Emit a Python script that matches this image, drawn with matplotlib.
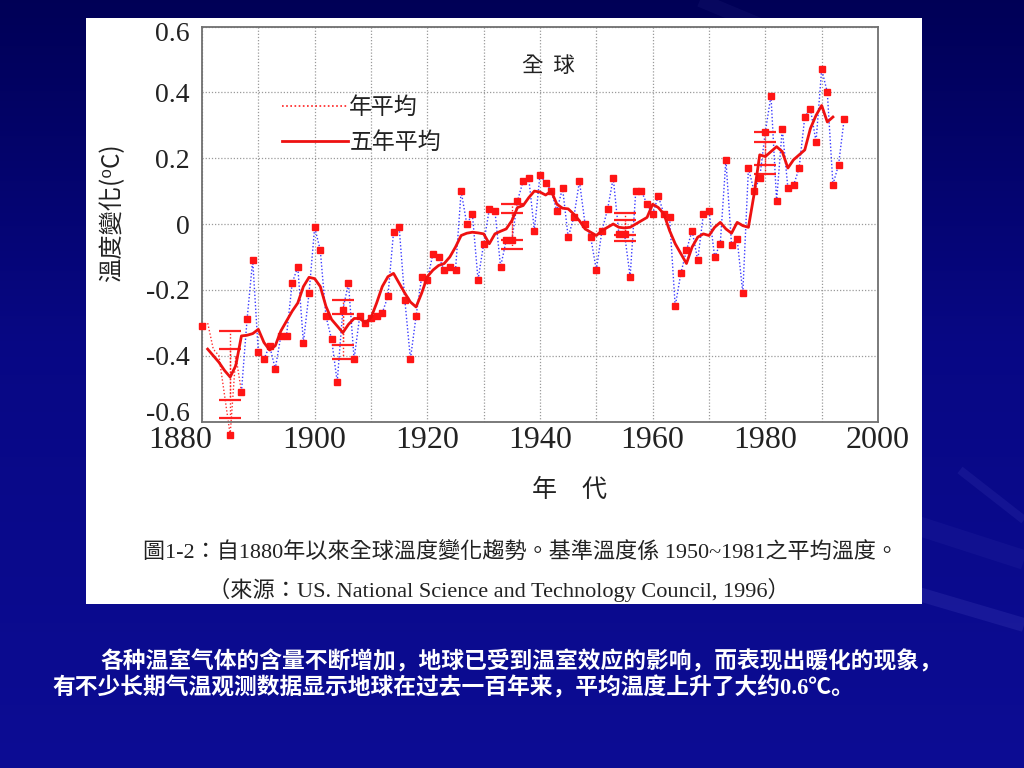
import matplotlib
matplotlib.use("Agg")
import matplotlib.pyplot as plt
import numpy as np
from matplotlib.lines import Line2D
from matplotlib.patches import Rectangle
from matplotlib.transforms import ScaledTranslation

# ---------------- data ----------------
years = list(range(1880, 1995))
annual = [
    -0.31, -0.30, -0.38, -0.40, -0.52, -0.64, -0.40, -0.51, -0.29, -0.11,   # 1880-1889
    -0.39, -0.41, -0.37, -0.44, -0.34, -0.34, -0.18, -0.13, -0.36, -0.21,   # 1890-1899
    -0.01, -0.08, -0.28, -0.35, -0.48, -0.26, -0.18, -0.41, -0.28, -0.30,   # 1900-1909
    -0.285, -0.28, -0.27, -0.22, -0.025, -0.01, -0.23, -0.41, -0.28, -0.16, # 1910-1919
    -0.17, -0.09, -0.10, -0.14, -0.13, -0.14, 0.10, 0.00, 0.03, -0.17,     # 1920-1929
    -0.06, 0.045, 0.04, -0.13, -0.05, -0.05, 0.07, 0.13, 0.14, -0.02,      # 1930-1939
    0.15, 0.125, 0.10, 0.04, 0.11, -0.04, 0.02, 0.13, 0.00, -0.04,         # 1940-1949
    -0.14, -0.02, 0.045, 0.14, -0.03, -0.03, -0.16, 0.10, 0.10, 0.06,      # 1950-1959
    0.03, 0.085, 0.03, 0.02, -0.25, -0.15, -0.08, -0.02, -0.11, 0.03,      # 1960-1969
    0.04, -0.10, -0.06, 0.195, -0.063, -0.046, -0.21, 0.17, 0.10, 0.14,    # 1970-1979
    0.28, 0.39, 0.07, 0.29, 0.11, 0.117, 0.17, 0.325, 0.35, 0.25,          # 1980-1989
    0.47, 0.40, 0.12, 0.18, 0.32,                                          # 1990-1994
]
hidden_marker_years = [1881, 1882, 1883, 1884, 1886]
early_end_year = 1887

years_5yr = list(range(1881, 1993))
five_year = [
    -0.38, -0.40, -0.42, -0.445, -0.465, -0.43, -0.34, -0.338, -0.333,      # 1881-1889
    -0.32, -0.36, -0.383, -0.37, -0.325, -0.295, -0.265, -0.24, -0.19, -0.162,  # 1890-1899
    -0.166, -0.19, -0.25, -0.29, -0.31, -0.33, -0.305, -0.287, -0.287, -0.30,   # 1900-1909
    -0.285, -0.24, -0.19, -0.16, -0.15, -0.18, -0.21, -0.237, -0.252, -0.21,    # 1910-1919
    -0.16, -0.14, -0.126, -0.12, -0.10, -0.07, -0.035, -0.028, -0.025, -0.027,  # 1920-1929
    -0.03, -0.06, -0.03, -0.022, -0.015, 0.01, 0.05, 0.056, 0.08, 0.10,         # 1930-1939
    0.097, 0.088, 0.10, 0.06, 0.048, 0.046, 0.03, 0.01, -0.015, -0.025,         # 1940-1949
    -0.035, -0.02, -0.01, 0.0, -0.01, -0.012, -0.01, 0.0, 0.01, 0.02,           # 1950-1959
    0.06, 0.05, 0.03, -0.02, -0.06, -0.09, -0.12, -0.07, -0.04, -0.03,          # 1960-1969
    -0.035, -0.01, 0.005, -0.015, -0.028, 0.005, -0.005, -0.01, 0.09, 0.21,     # 1970-1979
    0.205, 0.22, 0.235, 0.22, 0.17, 0.195, 0.21, 0.225, 0.29, 0.33,             # 1980-1989
    0.36, 0.31, 0.325,                                                          # 1990-1992
]

err_years = [1885, 1905, 1935, 1955, 1980]
err_center = [-0.4575, -0.32, -0.008, -0.01, 0.215]
err_outer = [0.1325, 0.089, 0.068, 0.043, 0.064]
err_inner = [0.0775, 0.047, 0.04, 0.022, 0.035]

x_ticks = [1880, 1900, 1920, 1940, 1960, 1980, 2000]
x_ticklabels = ["1880", "1900", "1920", "1940", "1960", "1980", "2000"]
y_ticks = [0.6, 0.4, 0.2, 0.0, -0.2, -0.4, -0.6]
y_ticklabels = ["0.6", "0.4", "0.2", "0", "-0.2", "-0.4", "-0.6"]

# ---------------- figure ----------------
W, H = 1024, 768
fig = plt.figure(figsize=(10.24, 7.68), dpi=100)

bg = fig.add_axes([0, 0, 1, 1])
bg.set_axis_off()
t = np.linspace(0, 1, H)[:, None]
top = np.array([0.00, 0.00, 0.34])
mid = np.array([0.03, 0.03, 0.52])
bot = np.array([0.05, 0.05, 0.58])
grad = np.where(t < 0.45, top + (mid - top) * (t / 0.45), mid + (bot - mid) * ((t - 0.45) / 0.55))
grad = np.repeat(grad[:, None, :], 2, axis=1)
bg.imshow(grad, extent=[0, W, H, 0], aspect="auto", zorder=0)
for (x0, y0, x1, y1, lw, a) in [(905, 590, 1024, 625, 10, 0.10), (960, 470, 1024, 520, 6, 0.08),
                                (900, 520, 1024, 560, 14, 0.05), (700, 0, 760, 25, 10, 0.05)]:
    bg.plot([x0, x1], [y0, y1], color=(0.6, 0.6, 1.0), lw=lw, alpha=a, solid_capstyle="butt", zorder=0.5)
bg.add_patch(Rectangle((86, 18), 836, 586, facecolor="white", edgecolor="none", zorder=1))
bg.set_xlim(0, W)
bg.set_ylim(H, 0)

ax = fig.add_axes([202 / W, 1 - 421.5 / H, 676 / W, 395 / H])
ax.set_xlim(1880, 2000)
ax.set_ylim(-0.6, 0.6)

# grid
ax.set_xticks(x_ticks)
ax.set_xticks(list(range(1890, 2000, 10)), minor=True)
ax.set_yticks(y_ticks)
ax.grid(True, which="both", axis="x", color="#9a9a9a", linestyle=(0, (1, 1.5)), lw=0.9)
ax.grid(True, which="major", axis="y", color="#9a9a9a", linestyle=(0, (1, 1.5)), lw=0.9)
ax.set_axisbelow(True)

serif = ["Liberation Serif", "DejaVu Serif"]
ax.set_xticklabels(x_ticklabels, fontsize=23, family=serif, color="#222222")
ax.set_yticklabels(y_ticklabels, fontsize=20, family=serif, color="#222222")
ax.tick_params(which="both", length=0)
ax.tick_params(axis="x", pad=3)
ax.tick_params(axis="y", pad=9)
lbl0 = ax.get_xticklabels()[0]
lbl0.set_transform(lbl0.get_transform() + ScaledTranslation(-0.22, 0, fig.dpi_scale_trans))
ylbls = ax.get_yticklabels()
ylbls[0].set_transform(ylbls[0].get_transform() + ScaledTranslation(0, -0.05, fig.dpi_scale_trans))
ylbls[-1].set_transform(ylbls[-1].get_transform() + ScaledTranslation(0, 0.10, fig.dpi_scale_trans))

for s in ax.spines.values():
    s.set_color("#707070")
    s.set_linewidth(1.3)

# annual values
ya = np.array(years)
va = np.array(annual)
early = ya <= early_end_year
late = ya >= early_end_year
ax.plot(ya[early], va[early], color="#ff3030", lw=1.0, linestyle=(0, (1, 1.5)), clip_on=False, zorder=2)
ax.plot(ya[late], va[late], color="#3b3bff", lw=1.0, linestyle=(0, (1, 1.5)), zorder=2)
show = np.array([y not in hidden_marker_years for y in years])
ax.plot(ya[show], va[show], linestyle="none", marker="s", ms=4.2, color="#ff1515", mec="#ff1515",
        clip_on=False, zorder=4)

# five year mean
ax.plot(years_5yr, five_year, color="#ee1111", lw=2.0, zorder=5, solid_joinstyle="round")

# error bars
for half in (err_outer, err_inner):
    eb = ax.errorbar(err_years, err_center, yerr=half, fmt="none", ecolor="#ff2020",
                     elinewidth=1.0, capsize=8, capthick=1.6, zorder=3)
    for lc in eb[2]:
        lc.set_linestyle((0, (1, 1.5)))

# legend
handles = [Line2D([], [], color="#ff2020", lw=1.2, linestyle=(0, (1, 1.5))),
           Line2D([], [], color="#ee1111", lw=2.0)]
cjk_tc = ["Noto Sans CJK TC", "DejaVu Sans"]
leg = ax.legend(handles, ["年平均", "五年平均"], loc="upper left", bbox_to_anchor=(0.118, 0.825),
                frameon=False, handlelength=2.9, handletextpad=0.05, labelspacing=0.55,
                borderaxespad=0, borderpad=0, prop={"family": cjk_tc, "size": 16.5})
for tx in leg.get_texts():
    tx.set_color("#222222")

ax.text(0.512, 0.90, "全  球", transform=ax.transAxes, ha="center", va="center",
        fontsize=15.5, family=cjk_tc, color="#222222")

# axis labels
fig.text(112 / W, 1 - 213 / H, "溫度變化(⁰C)", rotation=90, ha="center", va="center",
         fontsize=17.5, family=cjk_tc, color="#222222")
fig.text(569 / W, 1 - 490 / H, "年　代", ha="center", va="center",
         fontsize=18, family=cjk_tc, color="#222222")

# captions
cap_font = ["Liberation Serif", "Noto Sans CJK TC"]
fig.text(143 / W, 1 - 552 / H, "圖1-2：自1880年以來全球溫度變化趨勢。基準溫度係 1950~1981之平均溫度。",
         ha="left", va="center", fontsize=15.9, family=cap_font, color="#222222")
fig.text(208 / W, 1 - 590 / H, "（來源：US. National Science and Technology Council, 1996）",
         ha="left", va="center", fontsize=16, family=cap_font, color="#222222")

# slide text
sc_font = ["Liberation Serif", "Noto Sans CJK SC"]
fig.text(100 / W, 1 - 662 / H, "各种温室气体的含量不断增加，地球已受到温室效应的影响，而表现出暖化的现象，",
         ha="left", va="center", fontsize=16.4, family=sc_font, weight="bold", color="white")
fig.text(52 / W, 1 - 688 / H, "有不少长期气温观测数据显示地球在过去一百年来，平均温度上升了大约0.6℃。",
         ha="left", va="center", fontsize=16.4, family=sc_font, weight="bold", color="white")

fig.savefig("out.png", dpi=100)
